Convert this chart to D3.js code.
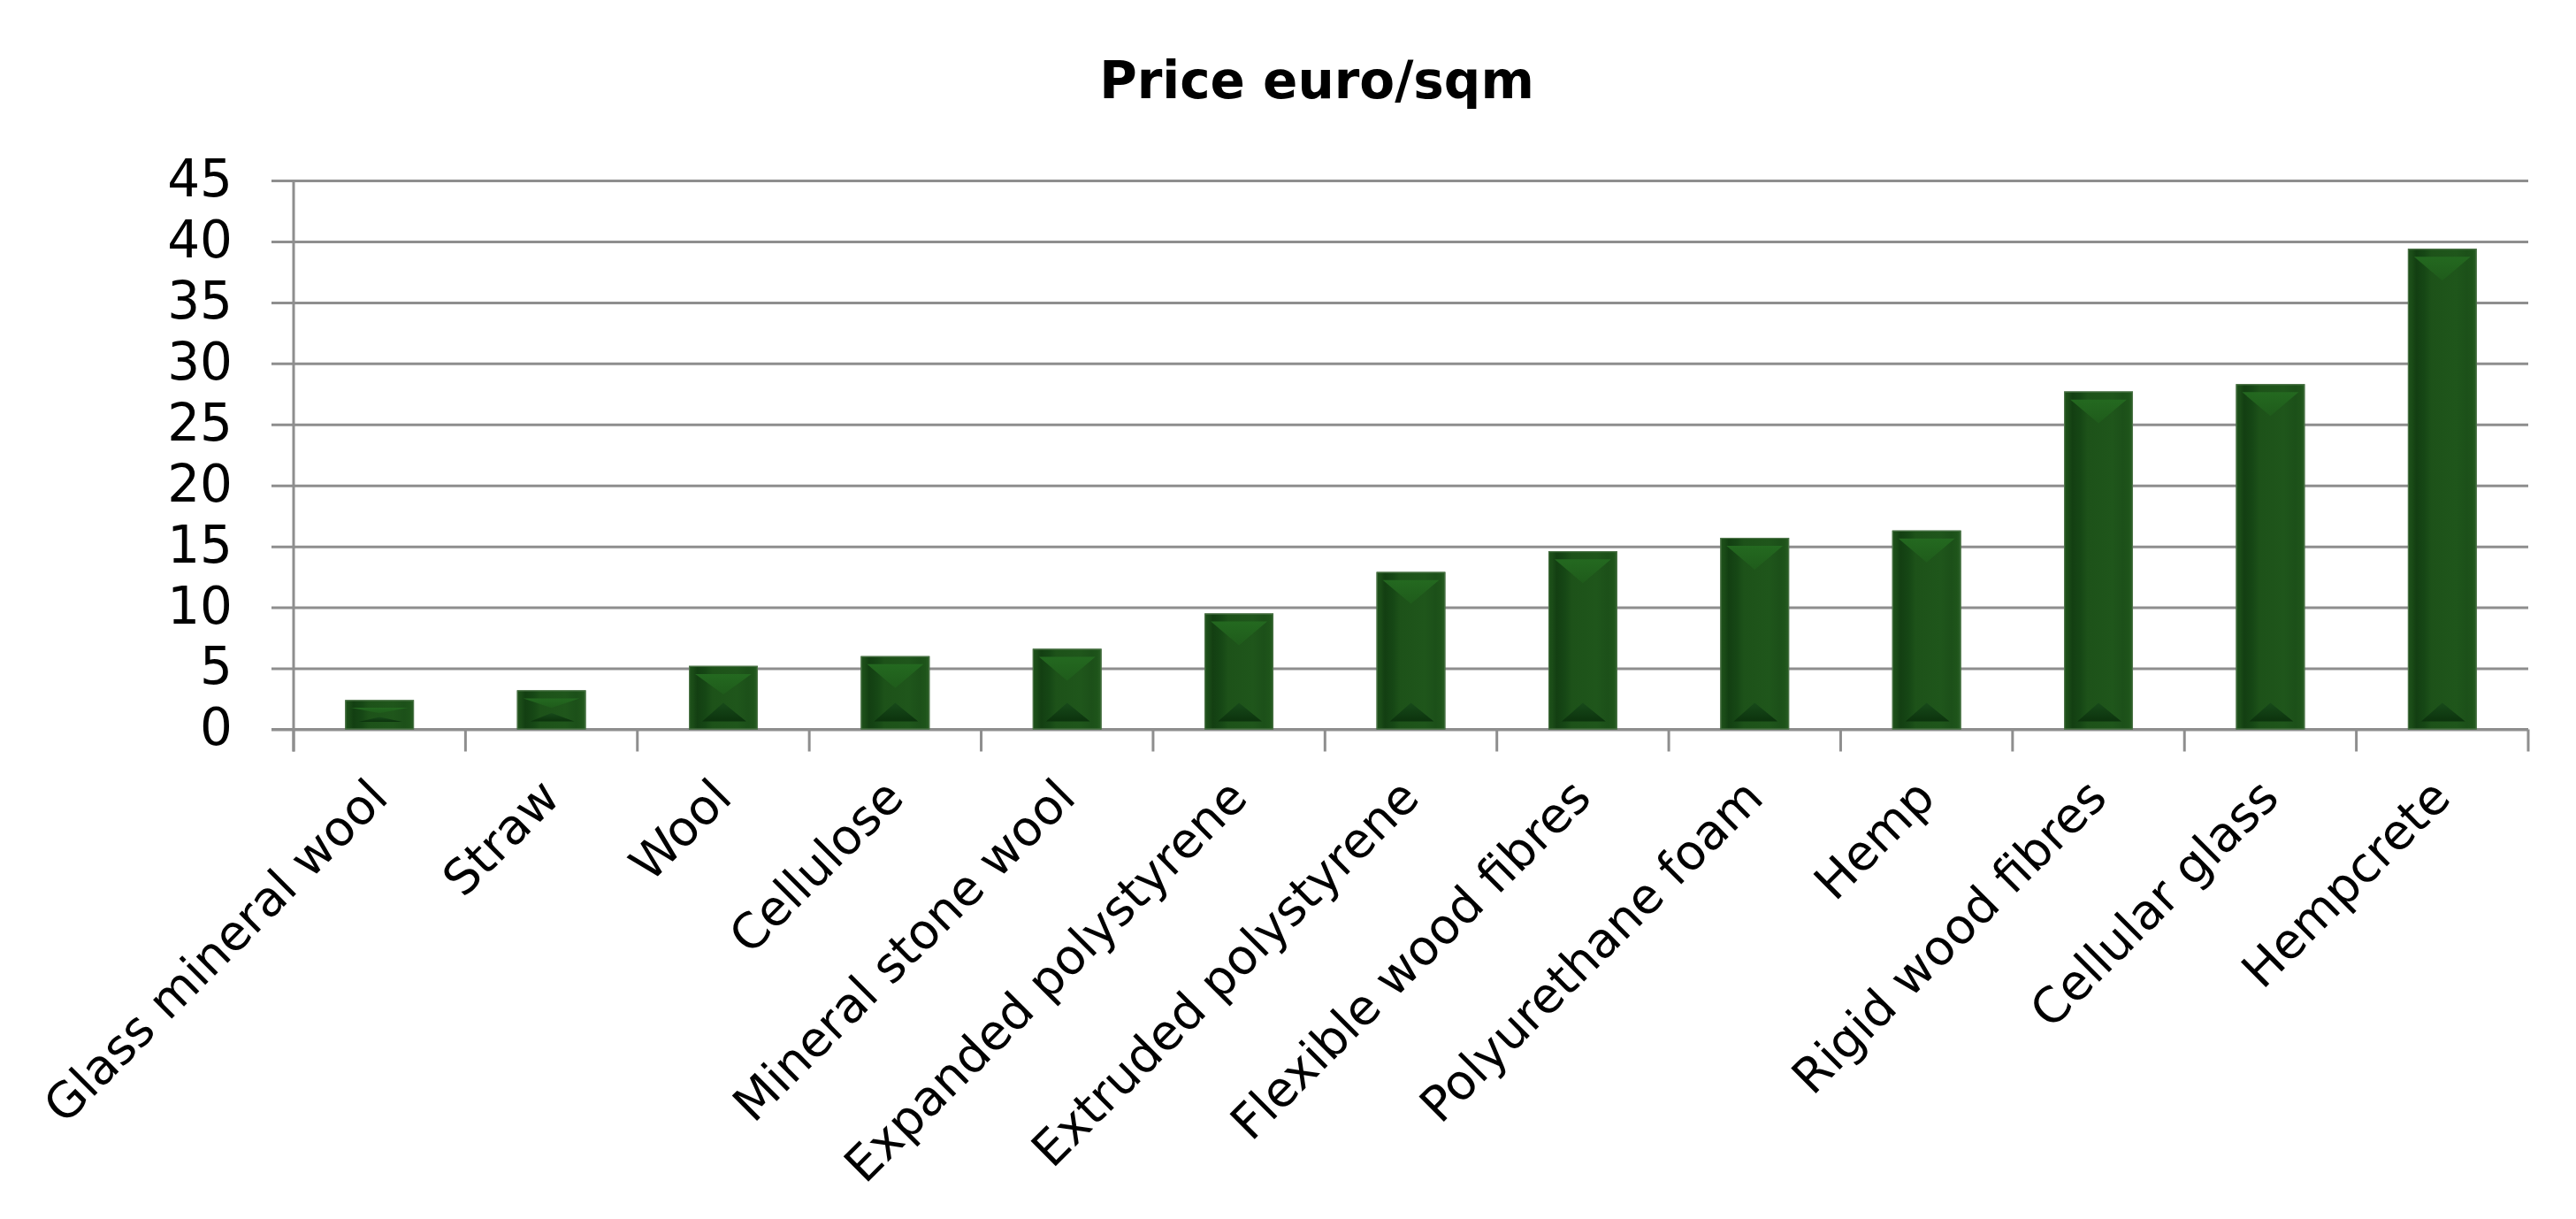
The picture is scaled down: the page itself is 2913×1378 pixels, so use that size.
<!DOCTYPE html>
<html>
<head>
<meta charset="utf-8">
<script src="https://cdn.jsdelivr.net/npm/d3@7/dist/d3.min.js"></script>
<style>
  html, body { margin: 0; padding: 0; background: #ffffff; }
  svg { display: block; }
  text { font-family: "DejaVu Sans", Verdana, sans-serif; fill: #000; }
</style>
</head>
<body>
<script>
// ---- data ----
const categories = [
  "Glass mineral wool", "Straw", "Wool", "Cellulose", "Mineral stone wool",
  "Expanded polystyrene", "Extruded polystyrene", "Flexible wood fibres",
  "Polyurethane foam", "Hemp", "Rigid wood fibres", "Cellular glass", "Hempcrete"
];
const prices = [2.4, 3.2, 5.2, 6.0, 6.6, 9.5, 12.9, 14.6, 15.7, 16.3, 27.7, 28.3, 39.4];
const yTicks = [0, 5, 10, 15, 20, 25, 30, 35, 40, 45];
const chartTitle = "Price euro/sqm";

// ---- layout ----
const W = 2913, H = 1378;
const plotLeft = 332, plotRight = 2859, plotTop = 204, plotBottom = 824.5;
const gridColor = "#8e8e8e";

const svg = d3.select("body").append("svg")
  .attr("width", W).attr("height", H);

const defs = svg.append("defs");
const grad = defs.append("linearGradient").attr("id", "barBody")
  .attr("x1", "0%").attr("x2", "100%").attr("y1", "0%").attr("y2", "0%");
[
  ["0%", "#1f531b"], ["6%", "#1a4b17"], ["12%", "#133f12"], ["24%", "#164715"],
  ["34%", "#1d5219"], ["70%", "#1f561b"], ["86%", "#1c5019"], ["94%", "#1e541a"], ["100%", "#2a5f26"]
].forEach(([o, c]) => grad.append("stop").attr("offset", o).attr("stop-color", c));

const topGrad = defs.append("linearGradient").attr("id", "topTri")
  .attr("x1", "0").attr("x2", "0").attr("y1", "0").attr("y2", "1");
topGrad.append("stop").attr("offset", "0%").attr("stop-color", "#246a20");
topGrad.append("stop").attr("offset", "100%").attr("stop-color", "#1f5c1b");

const botGrad = defs.append("linearGradient").attr("id", "botTri")
  .attr("x1", "0").attr("x2", "0").attr("y1", "0").attr("y2", "1");
botGrad.append("stop").attr("offset", "0%").attr("stop-color", "#17491a");
botGrad.append("stop").attr("offset", "100%").attr("stop-color", "#0b310c");

// ---- scales ----
const x = d3.scaleBand().domain(categories).range([plotLeft, plotRight])
  .paddingInner(0.6).paddingOuter(0.3);
const y = d3.scaleLinear().domain([0, 45]).range([plotBottom, plotTop]);

// ---- title ----
svg.append("text")
  .attr("x", 1489).attr("y", 111)
  .attr("text-anchor", "middle")
  .style("font-size", "58px").style("font-weight", "bold")
  .text(chartTitle);

// ---- y axis: gridlines + labels ----
const yAxis = d3.axisLeft(y).tickValues(yTicks)
  .tickSizeInner(plotRight - (plotLeft - 25))
  .tickSizeOuter(0)
  .tickPadding(44)
  .tickFormat(d3.format("d"));
const gy = svg.append("g").attr("transform", `translate(${plotRight},0)`).call(yAxis);
gy.select(".domain").remove();
gy.selectAll(".tick line").attr("stroke", gridColor).attr("stroke-width", 3);
gy.selectAll(".tick text")
  .style("font-size", "58px")
  .attr("dy", "0.30em");

// ---- x axis: boundary ticks + rotated labels ----
const boundaries = d3.range(categories.length + 1).map(i => plotLeft + i * x.step());
svg.append("g").selectAll("line").data(boundaries).join("line")
  .attr("x1", d => d).attr("x2", d => d)
  .attr("y1", plotBottom).attr("y2", plotBottom + 25)
  .attr("stroke", gridColor).attr("stroke-width", 3);

// y axis line
svg.append("line")
  .attr("x1", plotLeft).attr("x2", plotLeft)
  .attr("y1", plotTop).attr("y2", plotBottom + 25)
  .attr("stroke", gridColor).attr("stroke-width", 3);

const xAxis = d3.axisBottom(x).tickSize(0).tickPadding(0);
const gx = svg.append("g").attr("transform", `translate(0,${plotBottom})`).call(xAxis);
gx.select(".domain").attr("stroke", gridColor).attr("stroke-width", 3)
  .attr("d", `M${plotLeft - 25},0H${plotRight}`);
gx.selectAll(".tick text")
  .attr("y", 0).attr("dy", 0)
  .attr("text-anchor", "end")
  .attr("transform", "translate(12,80) rotate(-45)")
  .style("font-size", "55px");

// ---- bars with bevel look ----
const bars = svg.append("g").selectAll("g.bar")
  .data(categories.map((c, i) => ({ c, v: prices[i] })))
  .join("g").attr("class", "bar");

bars.each(function (d) {
  const g = d3.select(this);
  const x0 = x(d.c), w = x.bandwidth(), x1 = x0 + w, cx = x0 + w / 2;
  const y0 = y(d.v), y1 = y(0), h = y1 - y0;
  g.append("rect").attr("x", x0).attr("y", y0).attr("width", w).attr("height", h)
    .attr("fill", "url(#barBody)");
  const inset = Math.min(7, h / 5);
  const topH = Math.min(36, h * 0.45);
  const botH = Math.min(30, h * 0.42);
  // top lighter triangle
  g.append("path")
    .attr("d", `M${x0 + inset},${y0 + inset * 1.3}L${x1 - inset},${y0 + inset * 1.3}L${cx},${y0 + topH}Z`)
    .attr("fill", "url(#topTri)").attr("opacity", 0.95);
  // bottom darker triangle
  g.append("path")
    .attr("d", `M${x0 + 15},${y1 - inset * 1.3}L${x1 - 13},${y1 - inset * 1.3}L${cx},${y1 - botH}Z`)
    .attr("fill", "url(#botTri)").attr("opacity", 0.95);
  // light rim
  g.append("rect").attr("x", x0 + 0.5).attr("y", y0 + 0.5).attr("width", w - 1).attr("height", h - 1)
    .attr("fill", "none").attr("stroke", "#4d7448").attr("stroke-width", 1.2);
});
</script>
</body>
</html>
